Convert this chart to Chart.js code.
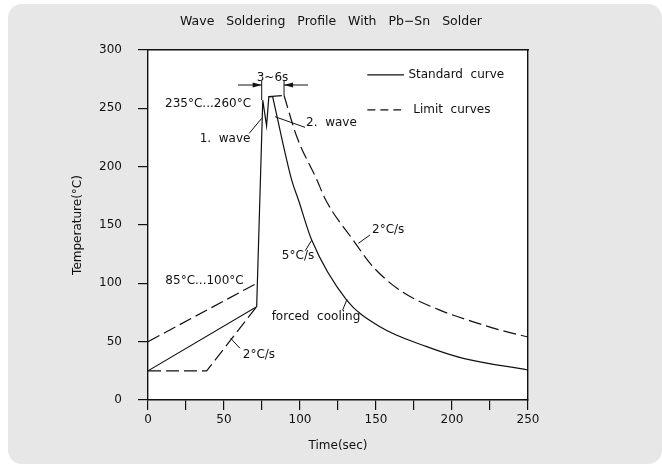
<!DOCTYPE html>
<html><head><meta charset="utf-8">
<script src="https://cdn.jsdelivr.net/npm/chart.js@4/dist/chart.umd.min.js"></script>
<style>
html,body{margin:0;padding:0;background:#fff;}
#wrap{position:absolute;left:0;top:0;width:662px;height:464px;}
canvas{display:block}
</style></head><body>
<div id="wrap"><canvas id="c" width="662" height="464"></canvas></div>
<script>
// ---- tick values / labels ----
const xTickValues = [0,25,50,75,100,125,150,175,200,225,250];
const xTickLabels = ['0','','50','','100','','150','','200','','250'];
const yTickValues = [0,50,100,150,200,250,300];
const yTickLabels = ['0','50','100','150','200','250','300'];

// ---- Standard curve (solid) ----
const stdHeatTime = [0, 71.5, 75.5, 78, 79.5, 82];
const stdHeatTemp = [25, 80, 257, 235, 260, 260];
const stdCoolTime = [82, 94.5, 99, 107.7, 130.7, 152.6, 183.4, 207.4, 250];
const stdCoolTemp = [260, 188.6, 171.4, 137.1, 85.7, 62.8, 45.7, 35.7, 25.7];

// ---- Limit curves (dashed) ----
const upHeatTime = [0, 71.5, 75, 79.5, 89.5];      // null temp = break in the line
const upHeatTemp = [50, 100, null, 260, 261];
const upCoolTime = [89.5, 97.8, 111, 117.1, 135, 148.2, 165.8, 192, 214, 231.6, 250];
const upCoolTemp = [261, 226, 189, 171, 137, 114, 94, 77, 67, 60, 54];
const lowTime = [0, 38.6, 71.5];
const lowTemp = [25, 25, 80];

const FONT = 'DejaVu Sans';
const INK = '#111';
const DASH = [13, 5];

const pts = (xs, ys) => xs.map((x, i) => ({x: x, y: ys[i]}));

function lineDs(label, xs, ys, dashed, smooth) {
  return {
    label: label, data: pts(xs, ys), borderColor: INK, borderWidth: 1.2,
    pointRadius: 0, fill: false, spanGaps: false, borderDash: dashed ? DASH : [],
    tension: 0, cubicInterpolationMode: smooth ? 'monotone' : 'default'
  };
}

// annotations in data coordinates
const notes = [
  {text: '3~6s', t: 81.9, T: 276, align: 'center'},
  {text: '235°C...260°C', t: 67.8, T: 253.7, align: 'right'},
  {text: '1.  wave', t: 50.7, T: 223.7, align: 'center'},
  {text: '2.  wave', t: 104, T: 237.4, align: 'left'},
  {text: '85°C...100°C', t: 37.2, T: 102, align: 'center'},
  {text: '2°C/s', t: 73, T: 38.6, align: 'center'},
  {text: '5°C/s', t: 98.7, T: 123.4, align: 'center'},
  {text: 'forced  cooling', t: 110.5, T: 71, align: 'center'},
  {text: '2°C/s', t: 158, T: 145.7, align: 'center'}
];
const leaders = [
  [66.6, 228.6, 74.8, 241.4],
  [103.3, 233.7, 83.6, 242.8],
  [60.5, 44.3, 54.4, 52.9],
  [103.5, 128, 107.7, 137],
  [128, 77, 131, 86.3],
  [146, 141.4, 138.4, 134.3],
  [74.8, 274, 74.8, 257],
  [89.5, 274, 89.5, 261]
];
const arrows = [
  [59.2, 270, 74.8, 270],
  [105.3, 270, 89.5, 270]
];
const legendItems = [
  {text: 'Standard  curve', t0: 144.3, t1: 168.4, T: 278.6, tx: 171.3, dashed: false},
  {text: 'Limit  curves', t0: 144.3, t1: 166.5, T: 248.6, tx: 174.5, dashed: true}
];

const panelPlugin = {
  id: 'panel',
  beforeDraw(chart) {
    const ctx = chart.ctx, a = chart.chartArea;
    ctx.save();
    ctx.fillStyle = '#fff';
    ctx.fillRect(0, 0, chart.width, chart.height);
    ctx.fillStyle = '#e6e7e6';
    ctx.beginPath();
    ctx.roundRect(8, 4, 654, 460, 14);
    ctx.fill();
    ctx.fillStyle = '#fff';
    ctx.fillRect(a.left, a.top, a.right - a.left, a.bottom - a.top);
    ctx.restore();
  }
};

const notesPlugin = {
  id: 'notes',
  afterDraw(chart) {
    const ctx = chart.ctx;
    const X = v => chart.scales.x.getPixelForValue(v);
    const Y = v => chart.scales.y.getPixelForValue(v);
    ctx.save();
    ctx.fillStyle = INK; ctx.strokeStyle = INK; ctx.lineWidth = 1;
    ctx.font = '12px "' + FONT + '"';
    ctx.textBaseline = 'middle';
    notes.forEach(n => { ctx.textAlign = n.align; ctx.fillText(n.text, X(n.t), Y(n.T)); });
    leaders.forEach(l => {
      ctx.beginPath(); ctx.moveTo(X(l[0]), Y(l[1])); ctx.lineTo(X(l[2]), Y(l[3])); ctx.stroke();
    });
    arrows.forEach(l => {
      const x1 = X(l[0]), y1 = Y(l[1]), x2 = X(l[2]), y2 = Y(l[3]);
      ctx.beginPath(); ctx.moveTo(x1, y1); ctx.lineTo(x2, y2); ctx.stroke();
      const ang = Math.atan2(y2 - y1, x2 - x1), L = 9, W = 2.6;
      ctx.beginPath();
      ctx.moveTo(x2, y2);
      ctx.lineTo(x2 - L * Math.cos(ang) + W * Math.sin(ang), y2 - L * Math.sin(ang) - W * Math.cos(ang));
      ctx.lineTo(x2 - L * Math.cos(ang) - W * Math.sin(ang), y2 - L * Math.sin(ang) + W * Math.cos(ang));
      ctx.closePath(); ctx.fill();
    });
    legendItems.forEach(it => {
      ctx.beginPath();
      ctx.setLineDash(it.dashed ? [8, 5] : []);
      ctx.lineWidth = 1.2;
      ctx.moveTo(X(it.t0), Y(it.T)); ctx.lineTo(X(it.t1), Y(it.T)); ctx.stroke();
      ctx.setLineDash([]);
      ctx.textAlign = 'left';
      ctx.fillText(it.text, X(it.tx), Y(it.T));
    });
    ctx.restore();
  }
};

const axisFont = {family: FONT, size: 12};
const gridOpts = {drawOnChartArea: false, drawTicks: true, tickLength: 10, color: INK, lineWidth: 1.2};
const borderOpts = {display: true, color: INK, width: 1.4};

new Chart(document.getElementById('c'), {
  type: 'line',
  data: {
    datasets: [
      lineDs('Standard curve', stdHeatTime, stdHeatTemp, false, false),
      lineDs('Standard curve', stdCoolTime, stdCoolTemp, false, true),
      lineDs('Limit curves', upHeatTime, upHeatTemp, true, false),
      lineDs('Limit curves', upCoolTime, upCoolTemp, true, true),
      lineDs('Limit curves', lowTime, lowTemp, true, false)
    ]
  },
  options: {
    responsive: false, animation: false, events: [],
    layout: {padding: 0},
    plugins: {
      legend: {display: false}, tooltip: {enabled: false},
      title: {display: true, text: 'Wave   Soldering   Profile   With   Pb−Sn   Solder', color: INK,
              font: {family: FONT, size: 12.5, weight: 'normal'}, padding: {top: 14, bottom: 21}}
    },
    scales: {
      x: {
        type: 'linear', position: 'bottom', min: 0, max: 250,
        afterBuildTicks: s => { s.ticks = xTickValues.map(v => ({value: v})); },
        ticks: {color: INK, font: axisFont, padding: 3, maxRotation: 0, autoSkip: false,
                callback: (v, i) => xTickLabels[i]},
        grid: gridOpts, border: borderOpts,
        title: {display: true, text: 'Time(sec)', color: INK, font: axisFont, padding: {top: 0, bottom: 10.8}},
        afterFit: s => { s.height = 64; }
      },
      y: {
        type: 'linear', position: 'left', min: 0, max: 300,
        afterBuildTicks: s => { s.ticks = yTickValues.map(v => ({value: v})); },
        ticks: {color: INK, font: axisFont, padding: 16, autoSkip: false,
                callback: (v, i) => yTickLabels[i]},
        grid: gridOpts, border: borderOpts,
        title: {display: true, text: 'Temperature(°C)', color: INK, font: axisFont, padding: {top: 71, bottom: 0}},
        afterFit: s => { s.width = 148; }
      },
      x2: {
        type: 'linear', position: 'top', min: 0, max: 250,
        ticks: {display: false}, grid: {drawOnChartArea: false, drawTicks: false},
        border: borderOpts, afterFit: s => { s.height = 0; }
      },
      y2: {
        type: 'linear', position: 'right', min: 0, max: 300,
        ticks: {display: false}, grid: {drawOnChartArea: false, drawTicks: false},
        border: borderOpts, afterFit: s => { s.width = 134; }
      }
    }
  },
  plugins: [panelPlugin, notesPlugin]
});
</script>
</body></html>
